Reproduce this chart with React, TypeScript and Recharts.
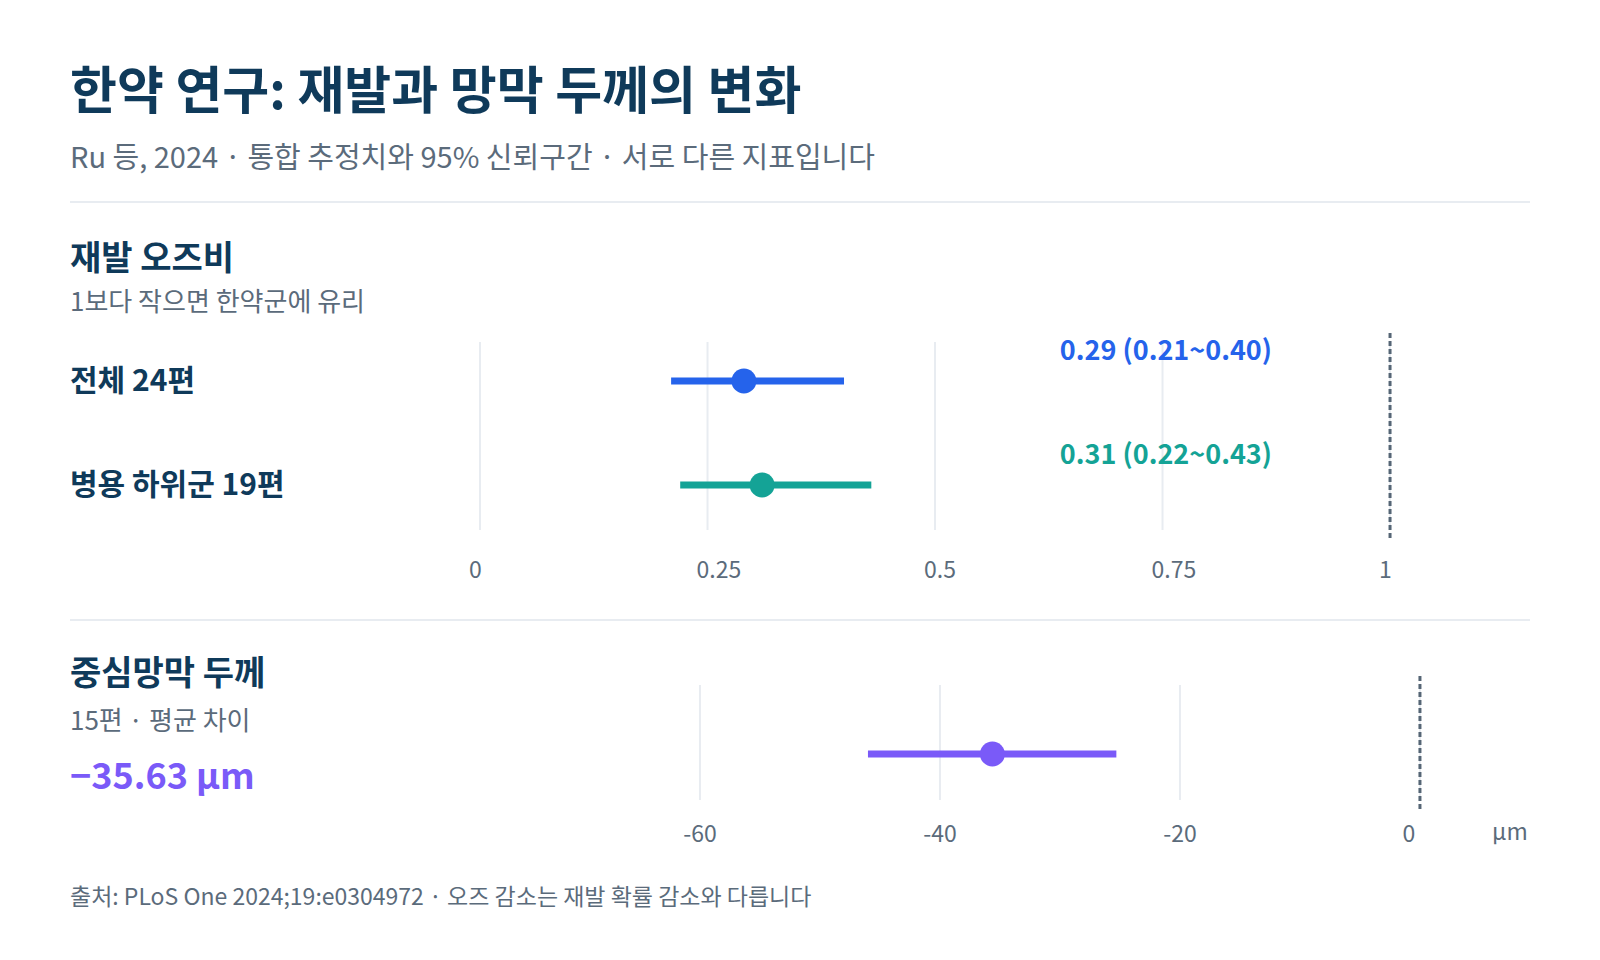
import React from "react";
import {
  ScatterChart,
  Scatter,
  XAxis,
  YAxis,
  CartesianGrid,
  ErrorBar,
  ReferenceLine,
} from "recharts";

// 재발 오즈비 (pooled OR, 95% CI)
const orLabels = ["전체 24편", "병용 하위군 19편"];
const orEst = [0.29, 0.31];
const orLow = [0.21, 0.22];
const orHigh = [0.4, 0.43];
const orTicks = [0, 0.25, 0.5, 0.75, 1];

// 중심망막 두께 (mean difference, µm)
const cmtEst = [-35.63];
const cmtLow = [-46.0];
const cmtHigh = [-25.3];
const cmtTicks = [-60, -40, -20, 0];

const FONT = "'Noto Sans CJK KR', 'Noto Sans', sans-serif";
const NAVY = "#0f3a5a";
const GRAY = "#5b6b7b";
const GRID = "#e8ecf1";
const DASH = "#556575";
const OR_COLORS = ["#2563eb", "#14a396"];
const PURPLE = "#7a5af8";

const orRows = orEst.map((est, i) => ({
  name: orLabels[i],
  row: i,
  est,
  err: [est - orLow[i], orHigh[i] - est],
  label: `${est.toFixed(2)} (${orLow[i].toFixed(2)}~${orHigh[i].toFixed(2)})`,
}));

const cmtRows = cmtEst.map((est, i) => ({
  row: i,
  est,
  err: [est - cmtLow[i], cmtHigh[i] - est],
}));

function T({ x, cy, size, weight = 400, color = NAVY, children }: any) {
  return (
    <div
      style={{
        position: "absolute",
        left: x,
        top: cy - size * 0.65,
        fontSize: size,
        lineHeight: `${size * 1.2}px`,
        fontWeight: weight,
        color,
        whiteSpace: "nowrap",
      }}
    >
      {children}
    </div>
  );
}

function Rule({ y }: { y: number }) {
  return (
    <div
      style={{
        position: "absolute",
        left: 70,
        top: y - 1,
        width: 1460,
        height: 2,
        background: GRID,
      }}
    />
  );
}

const dashedShape = (props: any) => {
  const top = Math.min(props.y1, props.y2) - 9;
  const bottom = Math.max(props.y1, props.y2) + 9;
  return (
    <line
      x1={props.x1}
      x2={props.x1}
      y1={top}
      y2={bottom}
      stroke={DASH}
      strokeWidth={3}
      strokeDasharray="5 3"
    />
  );
};

const OrTick = ({ x, y, payload }: any) => (
  <text
    x={x - 11}
    y={y + 38}
    textAnchor="start"
    dominantBaseline="central"
    fill={GRAY}
    fontSize={23}
    fontFamily={FONT}
  >
    {payload.value}
  </text>
);

const CmtTick = ({ x, y, payload }: any) => (
  <text
    x={payload.value === 0 ? x - 11 : x}
    y={y + 32}
    textAnchor="middle"
    dominantBaseline="central"
    fill={GRAY}
    fontSize={23}
    fontFamily={FONT}
  >
    {payload.value}
  </text>
);

const dotShape = (color: string, withLabel: boolean) => (p: any) => (
  <g>
    <circle cx={p.cx} cy={p.cy} r={12.5} fill={color} />
    {withLabel && (
      <text
        x={1272}
        y={p.cy - 32}
        textAnchor="end"
        dominantBaseline="central"
        fill={color}
        fontSize={27}
        fontWeight={700}
        fontFamily={FONT}
      >
        {p.payload.label}
      </text>
    )}
  </g>
);

export default function App() {
  return (
    <div
      style={{
        position: "absolute",
        left: 0,
        top: 0,
        width: 1600,
        height: 960,
        background: "#ffffff",
        fontFamily: FONT,
        overflow: "hidden",
      }}
    >
      <T x={70} cy={90} size={51} weight={700}>
        한약 연구: 재발과 망막 두께의 변화
      </T>
      <T x={70} cy={157} size={29} color={GRAY}>
        Ru 등, 2024 · 통합 추정치와 95% 신뢰구간 · 서로 다른 지표입니다
      </T>
      <Rule y={202} />

      <T x={70} cy={258} size={34} weight={700}>
        재발 오즈비
      </T>
      <T x={70} cy={301} size={26} color={GRAY}>
        1보다 작으면 한약군에 유리
      </T>
      {orRows.map((r, i) => (
        <T key={r.name} x={70} cy={i === 0 ? 379 : 483} size={30} weight={700}>
          {r.name}
        </T>
      ))}

      <div style={{ position: "absolute", left: 0, top: 320 }}>
        <ScatterChart
          width={1600}
          height={280}
          margin={{ top: 22, right: 70, bottom: 10, left: 480 }}
        >
          <CartesianGrid
            horizontal={false}
            syncWithTicks
            stroke={GRID}
            strokeWidth={2}
          />
          <XAxis
            type="number"
            dataKey="est"
            domain={[0, 1.1538]}
            ticks={orTicks}
            axisLine={false}
            tickLine={false}
            tickSize={0}
            tickMargin={0}
            height={60}
            tick={<OrTick />}
          />
          <YAxis
            type="number"
            dataKey="row"
            domain={[-0.375, 1.433]}
            reversed
            hide
          />
          <ReferenceLine x={1} shape={dashedShape} />
          {orRows.map((r, i) => (
            <Scatter
              key={r.name}
              data={[r]}
              isAnimationActive={false}
              shape={dotShape(OR_COLORS[i], true)}
            >
              <ErrorBar
                dataKey="err"
                direction="x"
                width={0}
                strokeWidth={7}
                stroke={OR_COLORS[i]}
                isAnimationActive={false}
              />
            </Scatter>
          ))}
        </ScatterChart>
      </div>

      <Rule y={620} />

      <T x={70} cy={673} size={34} weight={700}>
        중심망막 두께
      </T>
      <T x={70} cy={720} size={26} color={GRAY}>
        15편 · 평균 차이
      </T>
      <T x={70} cy={775} size={36} weight={700} color={PURPLE}>
        {"\u2212" + Math.abs(cmtEst[0]).toFixed(2) + " µm"}
      </T>

      <div style={{ position: "absolute", left: 0, top: 660 }}>
        <ScatterChart
          width={1600}
          height={200}
          margin={{ top: 25, right: 70, bottom: 10, left: 480 }}
        >
          <CartesianGrid
            horizontal={false}
            syncWithTicks
            stroke={GRID}
            strokeWidth={2}
          />
          <XAxis
            type="number"
            dataKey="est"
            domain={[-78.33, 9.17]}
            ticks={cmtTicks}
            axisLine={false}
            tickLine={false}
            tickSize={0}
            tickMargin={0}
            height={50}
            tick={<CmtTick />}
          />
          <YAxis
            type="number"
            dataKey="row"
            domain={[-0.6, 0.4]}
            reversed
            hide
          />
          <ReferenceLine x={0} shape={dashedShape} />
          <Scatter
            data={cmtRows}
            isAnimationActive={false}
            shape={dotShape(PURPLE, false)}
          >
            <ErrorBar
              dataKey="err"
              direction="x"
              width={0}
              strokeWidth={7}
              stroke={PURPLE}
              isAnimationActive={false}
            />
          </Scatter>
        </ScatterChart>
      </div>
      <T x={1492} cy={832} size={23} color={GRAY}>
        µm
      </T>

      <T x={70} cy={897} size={23} color={GRAY}>
        출처: PLoS One 2024;19:e0304972 · 오즈 감소는 재발 확률 감소와 다릅니다
      </T>
    </div>
  );
}
